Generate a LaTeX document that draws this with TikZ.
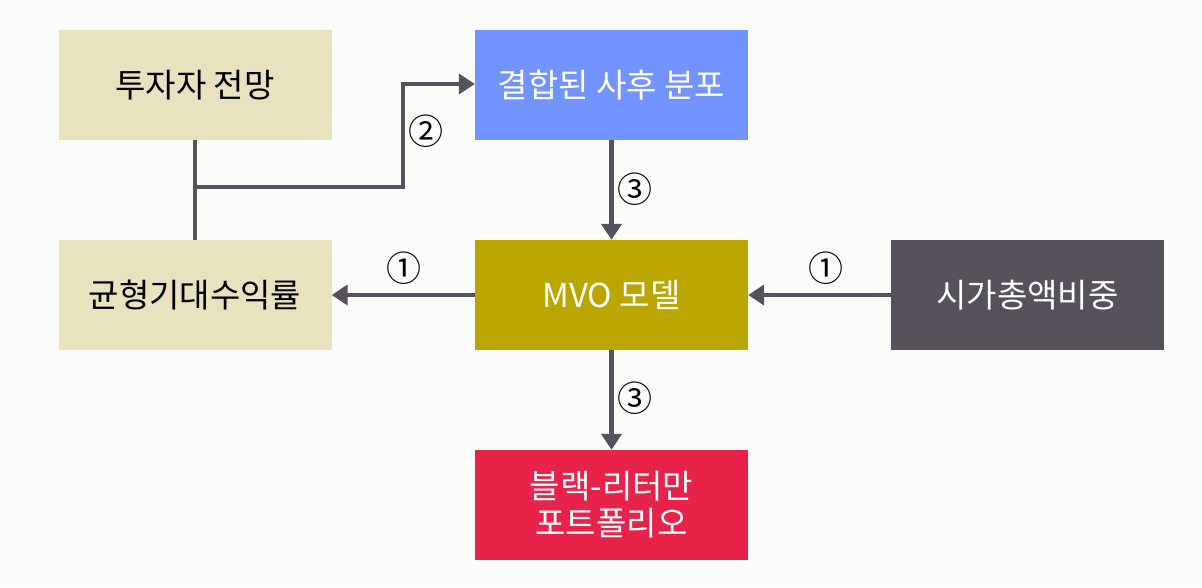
\documentclass[tikz,border=0pt]{standalone}
\usepackage{fontspec}
\setmainfont{Noto Sans CJK KR}
\usetikzlibrary{arrows.meta}
\definecolor{bg}{HTML}{FBFBF9}
\definecolor{beige}{HTML}{E8E2BF}
\definecolor{blueb}{HTML}{7393FF}
\definecolor{olive}{HTML}{BBA600}
\definecolor{darkb}{HTML}{57515B}
\definecolor{redb}{HTML}{E8234A}
\definecolor{linec}{HTML}{57515B}
\tikzset{
  box/.style={minimum width=273pt, minimum height=110pt, inner sep=0pt, align=center, font=\fontsize{33}{37}\selectfont},
  conn/.style={line width=4.5pt, draw=linec},
  arr/.style={conn, -{Triangle[length=16pt,width=20pt]}},
  num/.style={font=\fontsize{35}{35}\selectfont, text=black, inner sep=0pt}
}
\begin{document}
\begin{tikzpicture}[x=1pt,y=-1pt]
\fill[bg] (0,0) rectangle (1202,587);
\useasboundingbox (0,0) rectangle (1202,587);
\node[box, fill=beige, text=black] (inv) at (195,85) {투자자 전망};
\node[box, fill=blueb, text=white] (post) at (611.5,85) {결합된 사후 분포};
\node[box, fill=beige, text=black] (eq) at (195,295) {균형기대수익률};
\node[box, fill=olive, text=white] (mvo) at (611.5,295) {MVO 모델};
\node[box, fill=darkb, text=white] (cap) at (1027.5,295) {시가총액비중};
\node[box, fill=redb, text=white] (bl) at (611.5,505) {블랙-리터만\\포트폴리오};
\coordinate (j) at (195,187);
\coordinate (k) at (403,187);
\coordinate (m) at (403,84);
\draw[conn] (inv.south) -- (eq.north);
\draw[arr] (j) -- (k) -- (m) -- (post.west |- m);
\draw[arr] (post.south) -- (mvo.north);
\draw[arr] (mvo.west) -- (eq.east);
\draw[arr] (cap.west) -- (mvo.east);
\draw[arr] (mvo.south) -- (bl.north);
\node[num] (n2) at (426,131) {②};
\node[num] (n3a) at (635,189) {③};
\node[num] (n1a) at (404,268) {①};
\node[num] (n1b) at (826,268) {①};
\node[num] (n3b) at (635,398) {③};
\end{tikzpicture}
\end{document}
